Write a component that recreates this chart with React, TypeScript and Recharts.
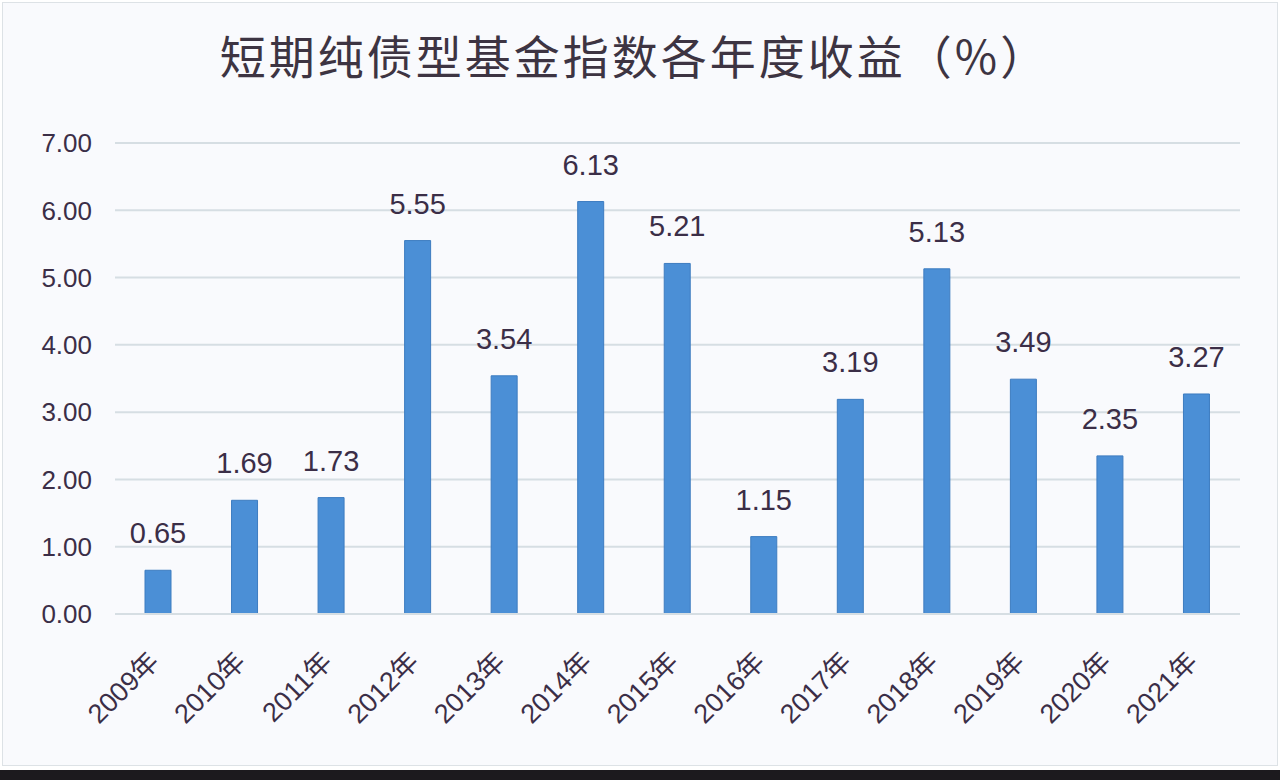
import React from "react";
import { BarChart, Bar, XAxis, YAxis, CartesianGrid, LabelList } from "recharts";

const years = ["2009年", "2010年", "2011年", "2012年", "2013年", "2014年", "2015年", "2016年", "2017年", "2018年", "2019年", "2020年", "2021年"];
const returns = [0.65, 1.69, 1.73, 5.55, 3.54, 6.13, 5.21, 1.15, 3.19, 5.13, 3.49, 2.35, 3.27];
const yTicks = [0, 1, 2, 3, 4, 5, 6, 7];
const title = "短期纯债型基金指数各年度收益（%）";

const data = years.map((y, i) => ({ year: y, value: returns[i] }));

const FONT = "'Liberation Sans', 'Noto Sans CJK SC', sans-serif";
const TEXT = "#3b2e47";

const XTick = (props: any) => {
  const { x, y, payload } = props;
  const ax = x - 4;
  const ay = y + 35;
  return (
    <text
      x={ax}
      y={ay}
      transform={`rotate(-45, ${ax}, ${ay})`}
      textAnchor="end"
      dominantBaseline="central"
      fontSize={27}
      fill={TEXT}
      fontFamily={FONT}
    >
      {payload.value}
    </text>
  );
};

export default function App() {
  return (
    <div style={{ position: "absolute", left: 0, top: 0, width: 1280, height: 780, background: "#ffffff", overflow: "hidden" }}>
      <div style={{ position: "absolute", left: 2, top: 2, width: 1274, height: 762, border: "1px solid #dde2e6", background: "#f9fafd" }} />
      <div style={{ position: "absolute", left: 0, top: 770, width: 1280, height: 10, background: "#1c1a1e" }} />
      <div
        style={{
          position: "absolute",
          left: 0,
          top: 26,
          width: 1269,
          textAlign: "center",
          fontSize: 46,
          letterSpacing: 3,
          color: "#3d3442",
          fontFamily: "'Noto Sans CJK SC', sans-serif",
          lineHeight: "56px",
        }}
      >
        {title}
      </div>
      <div style={{ position: "absolute", left: 0, top: 0 }}>
        <BarChart width={1280} height={770} data={data} margin={{ top: 143, right: 40, bottom: 0, left: 0 }}>
          <CartesianGrid horizontal vertical={false} stroke="#d6dee3" strokeWidth={2} />
          <XAxis dataKey="year" axisLine={{ stroke: "#d6dee3", strokeWidth: 2 }} tickLine={false} tick={<XTick />} interval={0} height={156} />
          <YAxis
            domain={[0, 7]}
            ticks={yTicks}
            width={115}
            axisLine={false}
            tickLine={false}
            tickSize={0}
            tickMargin={23}
            tickFormatter={(v: number) => v.toFixed(2)}
            tick={{ fontSize: 26, fill: TEXT, fontFamily: FONT }}
          />
          <Bar dataKey="value" fill="#4b8fd6" stroke="#3d7cc0" strokeWidth={1} barSize={26} isAnimationActive={false}>
            <LabelList
              dataKey="value"
              position="top"
              offset={27}
              formatter={(v: number) => v.toFixed(2)}
              style={{ fontSize: 29, fill: TEXT, fontFamily: FONT }}
            />
          </Bar>
        </BarChart>
      </div>
    </div>
  );
}
